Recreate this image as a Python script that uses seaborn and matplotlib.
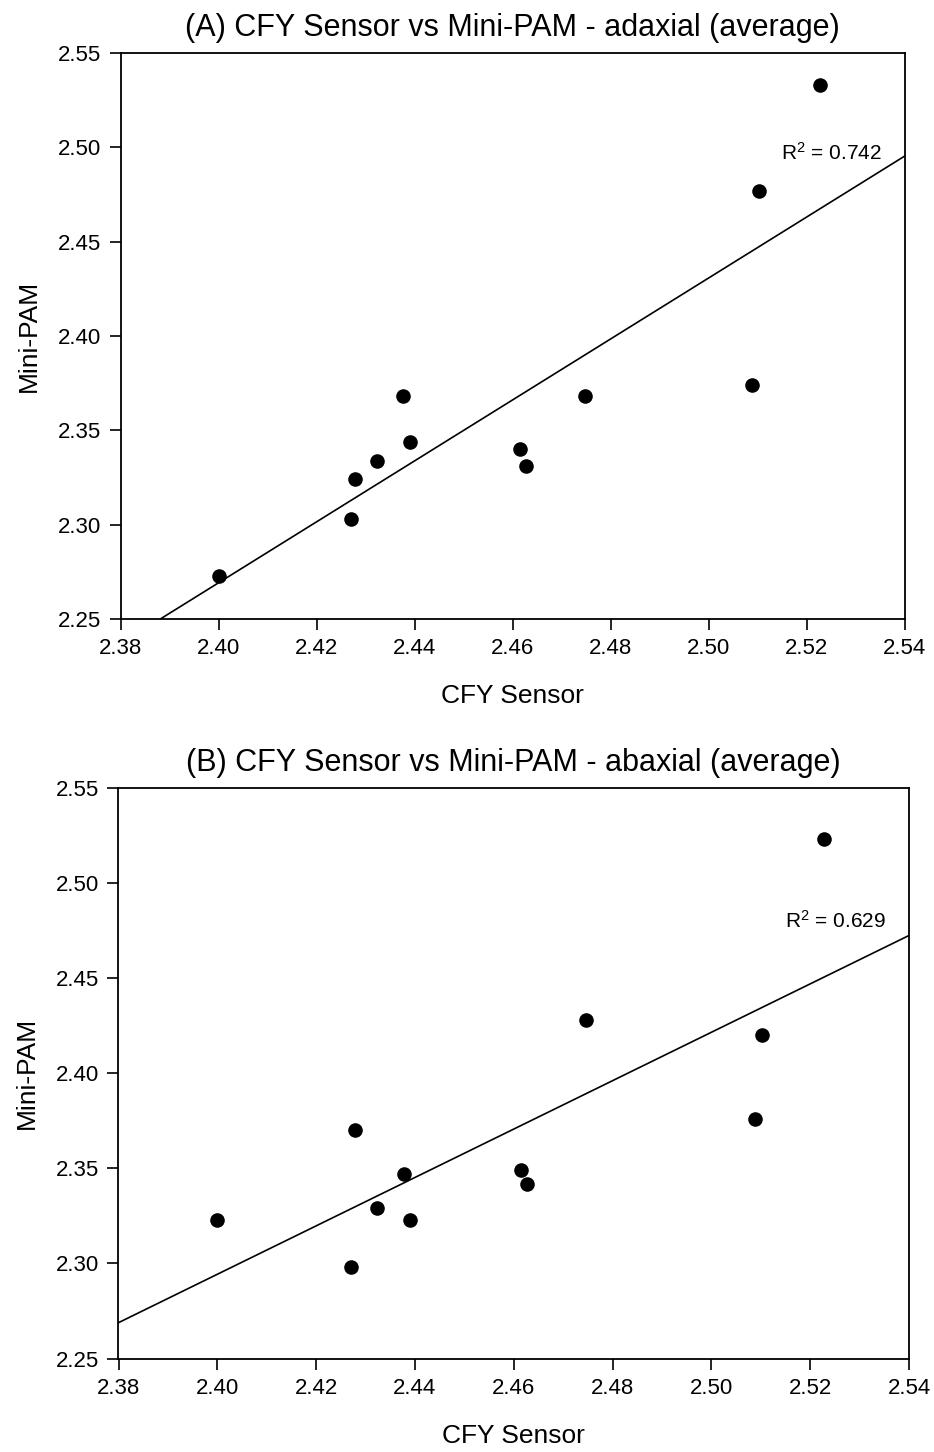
import numpy as np
import pandas as pd
import matplotlib
matplotlib.use("Agg")
import matplotlib.pyplot as plt
import seaborn as sns

sns.set_theme(style="white")
plt.rcParams['font.family'] = ['Liberation Sans', 'DejaVu Sans']
plt.rcParams['mathtext.default'] = 'regular'

# CFY Sensor readings (same leaves for both panels)
cfy_sensor = [2.400, 2.4271, 2.4278, 2.4323, 2.4377, 2.4390,
              2.4615, 2.4627, 2.4747, 2.5088, 2.5102, 2.5227]
# Mini-PAM readings
minipam_adaxial = [2.273, 2.303, 2.324, 2.334, 2.368, 2.344,
                   2.340, 2.331, 2.368, 2.374, 2.477, 2.533]
minipam_abaxial = [2.323, 2.298, 2.370, 2.329, 2.347, 2.323,
                   2.349, 2.342, 2.428, 2.376, 2.420, 2.523]

titles = ['(A) CFY Sensor vs Mini-PAM - adaxial (average)',
          '(B) CFY Sensor vs Mini-PAM - abaxial (average)']
r2_labels = ['R$^2$ = 0.742', 'R$^2$ = 0.629']
r2_pos = [(2.5148, 2.497), (2.5149, 2.480)]

x_ticks = [2.38, 2.40, 2.42, 2.44, 2.46, 2.48, 2.50, 2.52, 2.54]
y_ticks = [2.25, 2.30, 2.35, 2.40, 2.45, 2.50, 2.55]

W, H = 934, 1452
fig = plt.figure(figsize=(W / 100, H / 100), dpi=100)
# axes boxes in pixels: left, top, right, bottom
boxes = [(120.5, 53, 905, 619), (118.5, 788, 909, 1358.5)]

for i, yvals in enumerate([minipam_adaxial, minipam_abaxial]):
    l, t, r, b = boxes[i]
    ax = fig.add_axes([l / W, 1 - b / H, (r - l) / W, (b - t) / H])
    ax.set_xlim(2.38, 2.54)
    ax.set_ylim(2.25, 2.55)
    df = pd.DataFrame({'CFY Sensor': cfy_sensor, 'Mini-PAM': yvals})
    # regression line spans the whole x range, like the original
    sns.regplot(data=df, x='CFY Sensor', y='Mini-PAM', ax=ax, ci=None,
                truncate=False, color='black',
                scatter_kws={'s': 110, 'alpha': 1, 'linewidths': 0, 'zorder': 3},
                line_kws={'linewidth': 1.2})
    ax.set_xlim(2.38, 2.54)
    ax.set_ylim(2.25, 2.55)
    ax.set_xticks(x_ticks)
    ax.set_yticks(y_ticks)
    ax.set_xticklabels([f'{v:.2f}' for v in x_ticks])
    ax.set_yticklabels([f'{v:.2f}' for v in y_ticks])
    ax.tick_params(axis='both', direction='out', length=8, width=1.2,
                   labelsize=16, colors='black', bottom=True, left=True, pad=6)
    for s in ax.spines.values():
        s.set_color('black')
        s.set_linewidth(1.3)
    ax.set_xlabel('CFY Sensor', fontsize=19, labelpad=18, color='black')
    ax.set_ylabel('Mini-PAM', fontsize=19, labelpad=12, color='black')
    ax.set_title(titles[i], fontsize=22, pad=12, color='black')
    ax.text(r2_pos[i][0], r2_pos[i][1], r2_labels[i], fontsize=15,
            ha='left', va='center', color='black')

fig.savefig('out.png', dpi=100)
